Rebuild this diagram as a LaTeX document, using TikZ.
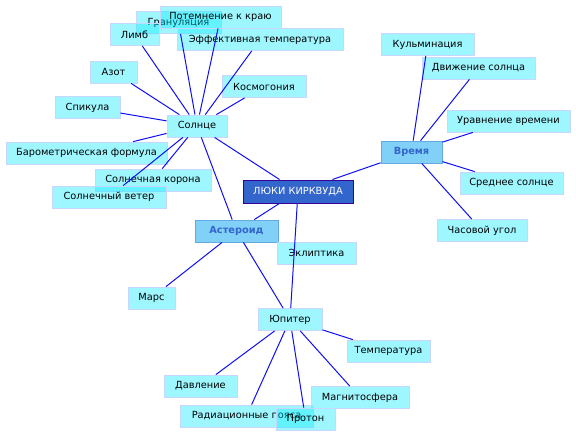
\documentclass[tikz,border=0pt]{standalone}
\usepackage{fontspec}
\setmainfont{DejaVu Sans}
\usetikzlibrary{positioning}
\definecolor{leafcyan}{RGB}{0,235,255}
\definecolor{leafline}{RGB}{200,215,255}
\definecolor{rootblue}{RGB}{51,102,204}
\definecolor{rootline}{RGB}{51,0,153}
\definecolor{hubfill}{RGB}{128,208,248}
\definecolor{hubline}{RGB}{100,170,225}
\definecolor{hubtext}{RGB}{51,102,204}
\definecolor{linkblue}{RGB}{15,15,245}

\begin{document}
\begin{tikzpicture}[x=1pt, y=-1pt,
  leaf/.style={draw=leafline, line width=0.8pt, fill=leafcyan, fill opacity=0.38,
    text opacity=1, minimum height=22pt, inner sep=0pt,
    font=\fontsize{9.8}{11}\selectfont},
  hub/.style={draw=hubline, line width=0.8pt, fill=hubfill, text=hubtext,
    minimum height=22pt, inner sep=0pt, font=\fontsize{9.8}{11}\selectfont\bfseries},
  root/.style={draw=rootline, line width=1pt, fill=rootblue, text=white,
    minimum height=23pt, inner sep=0pt, font=\fontsize{9.8}{11}\selectfont},
  link/.style={draw=linkblue, line width=1pt}]

\useasboundingbox (0,0) rectangle (576,437);

% Sun and its leaves
\node[leaf, minimum width=85pt]  (gran)   at (178.5,22.5) {Грануляция};
\node[leaf, minimum width=121pt] (potem)  at (220.5,17)   {Потемнение к краю};
\node[leaf, minimum width=166pt] (effek)  at (260,39.5)   {Эффективная температура};
\node[leaf, minimum width=49pt]  (limb)   at (134.5,34.5) {Лимб};
\node[leaf, minimum width=47pt]  (azot)   at (113.5,72)   {Азот};
\node[leaf, minimum width=84pt]  (kosmo)  at (264,86.5)   {Космогония};
\node[leaf, minimum width=65pt]  (spik)   at (87.5,107.5) {Спикула};
\node[leaf, minimum width=60pt]  (sun)    at (197,126)    {Солнце};
\node[leaf, minimum width=161pt] (baro)   at (86.5,153)   {Барометрическая формула};
\node[leaf, minimum width=116pt] (korona) at (153,180)    {Солнечная корона};
\node[leaf, minimum width=114pt] (veter)  at (109,197)    {Солнечный ветер};

% Centre
\node[root, minimum width=110pt] (root) at (298,191.5) {ЛЮКИ КИРКВУДА};

% Time and its leaves
\node[leaf, minimum width=93pt]  (kulm)   at (427.5,44.5) {Кульминация};
\node[leaf, minimum width=113pt] (dvizh)  at (478.5,68)   {Движение солнца};
\node[leaf, minimum width=123pt] (urav)   at (508.5,121)  {Уравнение времени};
\node[hub,  minimum width=61pt]  (vremya) at (411.5,152)  {Время};
\node[leaf, minimum width=103pt] (sredn)  at (511.5,183)  {Среднее солнце};
\node[leaf, minimum width=90pt]  (chas)   at (482,230.5)  {Часовой угол};

% Asteroid, Jupiter and their leaves
\node[hub,  minimum width=83pt]  (aster)  at (236.5,231)  {Астероид};
\node[leaf, minimum width=79pt]  (eklip)  at (316.5,253)  {Эклиптика};
\node[leaf, minimum width=47pt]  (mars)   at (151.5,298)  {Марс};
\node[leaf, minimum width=64pt]  (jup)    at (290,319.5)  {Юпитер};
\node[leaf, minimum width=83pt]  (temp)   at (388.5,351)  {Температура};
\node[leaf, minimum width=73pt]  (davl)   at (200.5,386)  {Давление};
\node[leaf, minimum width=98pt]  (magn)   at (360,397.5)  {Магнитосфера};
\node[leaf, minimum width=133pt] (radi)   at (246.5,416)  {Радиационные пояса};
\node[leaf, minimum width=59pt]  (proton) at (305.5,419)  {Протон};

% Links of the sun
\draw[link] (sun) -- (gran);
\draw[link] (sun) -- (potem);
\draw[link] (sun) -- (effek);
\draw[link] (sun) -- (limb);
\draw[link] (sun) -- (azot);
\draw[link] (sun) -- (kosmo);
\draw[link] (sun) -- (spik);
\draw[link] (sun) -- (baro);
\draw[link] (sun) -- (korona);
\draw[link] (sun) -- (veter);
\draw[link] (sun) -- (root);
\draw[link] (sun) -- (aster);

% Links of the centre
\draw[link] (root) -- (vremya);
\draw[link] (root) -- (aster);
\draw[link] (root) -- (jup);

% Links of time
\draw[link] (vremya) -- (kulm);
\draw[link] (vremya) -- (dvizh);
\draw[link] (vremya) -- (urav);
\draw[link] (vremya) -- (sredn);
\draw[link] (vremya) -- (chas);

% Links of the asteroid and Jupiter
\draw[link] (aster) -- (mars);
\draw[link] (aster) -- (jup);
\draw[link] (jup) -- (temp);
\draw[link] (jup) -- (davl);
\draw[link] (jup) -- (radi);
\draw[link] (jup) -- (proton);
\draw[link] (jup) -- (magn);

\end{tikzpicture}
\end{document}
